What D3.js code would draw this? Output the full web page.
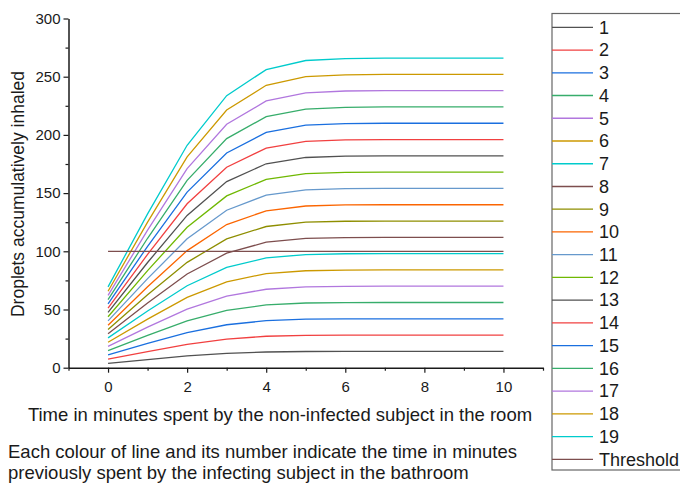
<!DOCTYPE html>
<html>
<head>
<meta charset="utf-8">
<script src="https://cdn.jsdelivr.net/npm/d3@7"></script>
<style>
  body { margin: 0; background: #fff; }
  svg { font-family: Arial, "Liberation Sans", sans-serif; }
</style>
</head>
<body>
<div id="chart"></div>
<script>
// Data set
let minutes = [0, 1, 2, 3, 4, 5, 6, 7, 8, 9, 10];
let names = ["1", "2", "3", "4", "5", "6", "7", "8", "9", "10",
  "11", "12", "13", "14", "15", "16", "17", "18", "19"];
let s1 = [3.7, 7.0, 10.1, 12.3, 13.5, 13.9, 14.0, 14, 14, 14, 14];
let s2 = [7.3, 13.9, 20.1, 24.6, 27.0, 27.8, 28.0, 28, 28, 28, 28];
let s3 = [11.0, 20.9, 30.2, 36.9, 40.4, 41.7, 41.9, 42, 42, 42, 42];
let s4 = [14.6, 27.8, 40.2, 49.2, 53.9, 55.6, 55.9, 56, 56, 56, 56];
let s5 = [18.3, 34.8, 50.3, 61.5, 67.4, 69.5, 69.9, 70, 70, 70, 70];
let s6 = [21.9, 41.7, 60.4, 73.8, 80.9, 83.3, 83.9, 84, 84, 84, 84];
let s7 = [25.6, 48.7, 70.4, 86.1, 94.4, 97.2, 97.9, 98, 98, 98, 98];
let s8 = [29.2, 55.6, 80.5, 98.4, 107.8, 111.1, 111.8, 112, 112, 112, 112];
let s9 = [32.9, 62.6, 90.5, 110.7, 121.3, 125.0, 125.8, 126, 126, 126, 126];
let s10 = [36.5, 69.5, 100.6, 123.0, 134.8, 138.9, 139.8, 140, 140, 140, 140];
let s11 = [40.2, 76.5, 110.7, 135.3, 148.3, 152.8, 153.8, 154, 154, 154, 154];
let s12 = [43.8, 83.4, 120.7, 147.6, 161.8, 166.7, 167.8, 168, 168, 168, 168];
let s13 = [47.5, 90.4, 130.8, 159.9, 175.2, 180.6, 181.7, 182, 182, 182, 182];
let s14 = [51.1, 97.3, 140.8, 172.2, 188.7, 194.5, 195.7, 196, 196, 196, 196];
let s15 = [54.8, 104.3, 150.9, 184.5, 202.2, 208.4, 209.7, 210, 210, 210, 210];
let s16 = [58.4, 111.2, 161.0, 196.8, 215.7, 222.2, 223.7, 224, 224, 224, 224];
let s17 = [62.1, 118.2, 171.0, 209.1, 229.2, 236.1, 237.7, 238, 238, 238, 238];
let s18 = [65.7, 125.1, 181.1, 221.4, 242.6, 250.0, 251.6, 252, 252, 252, 252];
let s19 = [69.4, 132.1, 191.1, 233.7, 256.1, 263.9, 265.6, 266, 266, 266, 266];
let threshold = [100, 100, 100, 100, 100, 100, 100, 100, 100, 100, 100];
let yTicks = [0, 50, 100, 150, 200, 250, 300];
let xTicks = [0, 2, 4, 6, 8, 10];

let colors = ["#515151", "#F14040", "#1A6FDF", "#37AD6B", "#B177DE", "#CC9900",
  "#00CBCC", "#7D4E4E", "#8E8E00", "#FB6501", "#6699CC", "#6FB802"];

let series = [s1, s2, s3, s4, s5, s6, s7, s8, s9, s10, s11, s12, s13, s14, s15,
  s16, s17, s18, s19].map(function (v, i) {
  return {name: names[i], values: v, color: colors[i % colors.length]};
});
series.push({name: "Threshold", values: threshold, color: "#7D4E4E"});

let svg = d3.select("#chart").append("svg")
  .attr("width", 680)
  .attr("height", 484);

let x = d3.scaleLinear().domain([-1, 11]).range([68.5, 543]);
let y = d3.scaleLinear().domain([0, 300]).range([367.7, 18.5]);

let ink = "#1a1a1a";

// Lines (threshold drawn last, as in the legend)
let line = d3.line()
  .x(function (d, i) {return x(minutes[i])})
  .y(function (d) {return y(d)});

svg.append("g").selectAll("path")
  .data(series)
  .enter()
  .append("path")
  .attr("d", function (d) {return line(d.values)})
  .attr("fill", "none")
  .attr("stroke", function (d) {return d.color})
  .attr("stroke-width", 1.3);

// Y axis
let yAxis = svg.append("g")
  .attr("transform", "translate(" + x(-1) + ",0)")
  .call(d3.axisLeft(y).tickValues(d3.range(0, 301, 25)).tickSize(5).tickSizeOuter(0)
    .tickFormat(function (d) {return yTicks.indexOf(d) >= 0 ? d : ""}));
yAxis.selectAll(".tick line")
  .attr("x2", function (d) {return yTicks.indexOf(d) >= 0 ? -5 : -3});

// X axis
let xAxis = svg.append("g")
  .attr("transform", "translate(0," + y(0) + ")")
  .call(d3.axisBottom(x).tickValues(d3.range(-1, 12, 1)).tickSize(5).tickSizeOuter(0)
    .tickFormat(function (d) {return xTicks.indexOf(d) >= 0 ? d : ""}));
xAxis.selectAll(".tick line")
  .attr("y2", function (d) {return xTicks.indexOf(d) >= 0 ? 5 : 3});

svg.selectAll(".domain").attr("stroke", ink).attr("stroke-width", 1.5);
svg.selectAll(".tick line").attr("stroke", ink).attr("stroke-width", 1.2);
svg.selectAll(".tick text").attr("fill", ink).style("font-size", "15px")
  .style("font-family", "Arial, 'Liberation Sans', sans-serif");
xAxis.selectAll(".tick text").attr("dy", null).attr("y", 24);
yAxis.selectAll(".tick text").attr("x", -8);

// Axis titles
svg.append("text")
  .attr("transform", "translate(24,194) rotate(-90)")
  .attr("text-anchor", "middle")
  .attr("fill", ink)
  .style("font-size", "17.5px")
  .text("Droplets accumulatively inhaled");

svg.append("text")
  .attr("x", 280)
  .attr("y", 421)
  .attr("text-anchor", "middle")
  .attr("fill", ink)
  .style("font-size", "18.5px")
  .text("Time in minutes spent by the non-infected subject in the room");

svg.append("text")
  .attr("x", 8)
  .attr("y", 458)
  .attr("fill", ink)
  .style("font-size", "18.5px")
  .text("Each colour of line and its number indicate the time in minutes");

svg.append("text")
  .attr("x", 8)
  .attr("y", 479)
  .attr("fill", ink)
  .style("font-size", "18.5px")
  .text("previously spent by the infecting subject in the bathroom");

// Legend
let legend = svg.append("g");
legend.append("rect")
  .attr("x", 552)
  .attr("y", 13.5)
  .attr("width", 200)
  .attr("height", 456.5)
  .attr("fill", "none")
  .attr("stroke", "#666")
  .attr("stroke-width", 1.2);

let item = legend.selectAll("g.item")
  .data(series)
  .enter()
  .append("g")
  .attr("class", "item")
  .attr("transform", function (d, i) {return "translate(552," + (27.3 + i * 22.74) + ")"});

item.append("line")
  .attr("x1", 0)
  .attr("x2", 41)
  .attr("stroke", function (d) {return d.color})
  .attr("stroke-width", 1.3);

item.append("text")
  .attr("x", 47)
  .attr("dy", "0.35em")
  .attr("fill", ink)
  .style("font-size", "18px")
  .text(function (d) {return d.name});
</script>
</body>
</html>
